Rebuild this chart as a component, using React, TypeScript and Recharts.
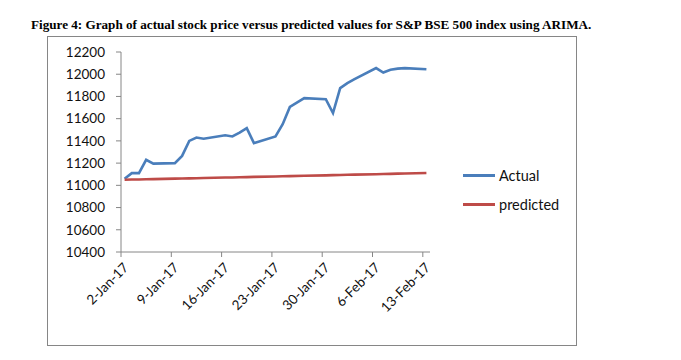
import React from 'react';
import { LineChart, Line, XAxis, YAxis } from 'recharts';

// trading days shown in the figure (Jan 26 is a market holiday)
const tradeDates = [
  '2017-01-02', '2017-01-03', '2017-01-04', '2017-01-05', '2017-01-06',
  '2017-01-09', '2017-01-10', '2017-01-11', '2017-01-12', '2017-01-13',
  '2017-01-16', '2017-01-17', '2017-01-18', '2017-01-19', '2017-01-20',
  '2017-01-23', '2017-01-24', '2017-01-25', '2017-01-27',
  '2017-01-30', '2017-01-31', '2017-02-01', '2017-02-02', '2017-02-03',
  '2017-02-06', '2017-02-07', '2017-02-08', '2017-02-09', '2017-02-10',
  '2017-02-13',
];

const actual = [
  11060, 11110, 11110, 11230, 11195,
  11200, 11265, 11400, 11430, 11420,
  11450, 11440, 11475, 11515, 11380,
  11440, 11550, 11705, 11785,
  11775, 11650, 11875, 11920, 11955,
  12055, 12015, 12040, 12050, 12055,
  12045,
];

const predicted = [
  11050, 11052, 11053, 11055, 11056,
  11060, 11061, 11063, 11064, 11066,
  11070, 11071, 11073, 11074, 11076,
  11080, 11082, 11083, 11086,
  11090, 11092, 11093, 11095, 11096,
  11100, 11102, 11103, 11105, 11106,
  11111,
];

const xTickLabels = ['2-Jan-17', '9-Jan-17', '16-Jan-17', '23-Jan-17', '30-Jan-17', '6-Feb-17', '13-Feb-17'];
const yTicks = [10400, 10600, 10800, 11000, 11200, 11400, 11600, 11800, 12000, 12200];

const START = Date.UTC(2017, 0, 2);
const DAY = 86400000;
const dayIndex = (s: string) => {
  const [y, m, d] = s.split('-').map(Number);
  return Math.round((Date.UTC(y, m - 1, d) - START) / DAY);
};

// Excel date axis: each point sits in the middle of its day
const chartData = tradeDates.map((d, i) => ({
  x: dayIndex(d) + 0.5,
  actual: actual[i],
  predicted: predicted[i],
}));

const xTicks = xTickLabels.map((_, i) => i * 7);

const FONT = 'Lato, "Open Sans", sans-serif';
const AXIS = '#868686';

const DateTick = (props: any) => {
  const { x, y, payload } = props;
  const label = xTickLabels[xTicks.indexOf(payload.value)] ?? '';
  return (
    <g transform={`translate(${x + 5},${y + 6})`}>
      <text
        x={0}
        y={0}
        dy="0.35em"
        textAnchor="end"
        transform="rotate(-45)"
        fontFamily={FONT}
        fontSize={13.5}
        fill="#111"
      >
        {label}
      </text>
    </g>
  );
};

export default function App() {
  return (
    <div style={{ position: 'absolute', left: 0, top: 0, width: 681, height: 360, background: '#fff' }}>
      <div
        style={{
          position: 'absolute',
          left: 31,
          top: 17,
          fontFamily: '"Liberation Serif", serif',
          fontWeight: 'bold',
          fontSize: 13.15,
          whiteSpace: 'nowrap',
          color: '#000',
        }}
      >
        Figure 4: Graph of actual stock price versus predicted values for S&amp;P BSE 500 index using ARIMA.
      </div>
      <div
        style={{
          position: 'absolute',
          left: 47,
          top: 36,
          width: 530,
          height: 310,
          border: `1px solid ${AXIS}`,
          boxSizing: 'border-box',
        }}
      />
      <div style={{ position: 'absolute', left: 0, top: 0 }}>
        <LineChart
          width={681}
          height={360}
          data={chartData}
          margin={{ top: 52, right: 251, bottom: 18, left: 51 }}
        >
          <XAxis
            dataKey="x"
            type="number"
            domain={[0, 43]}
            ticks={xTicks}
            interval={0}
            height={90}
            axisLine={{ stroke: AXIS }}
            tickLine={{ stroke: AXIS }}
            tickSize={5}
            tick={<DateTick />}
          />
          <YAxis
            type="number"
            domain={[10400, 12200]}
            ticks={yTicks}
            interval={0}
            width={70}
            axisLine={{ stroke: AXIS }}
            tickLine={{ stroke: AXIS }}
            tickSize={5}
            tickMargin={11}
            tick={{ fill: '#111', fontFamily: FONT, fontSize: 13.5 }}
          />
          <Line
            type="linear"
            dataKey="actual"
            stroke="#4A7EBB"
            strokeWidth={2.6}
            dot={false}
            isAnimationActive={false}
          />
          <Line
            type="linear"
            dataKey="predicted"
            stroke="#BE4B48"
            strokeWidth={2.6}
            dot={false}
            isAnimationActive={false}
          />
        </LineChart>
      </div>
      {[
        { name: 'Actual', color: '#4A7EBB', y: 175 },
        { name: 'predicted', color: '#BE4B48', y: 204 },
      ].map((item) => (
        <div key={item.name} style={{ position: 'absolute', left: 463, top: item.y - 10, height: 20, display: 'flex', alignItems: 'center' }}>
          <div style={{ width: 32, height: 3, background: item.color, marginRight: 4 }} />
          <span style={{ fontFamily: FONT, fontSize: 14.5, color: '#111' }}>{item.name}</span>
        </div>
      ))}
    </div>
  );
}
